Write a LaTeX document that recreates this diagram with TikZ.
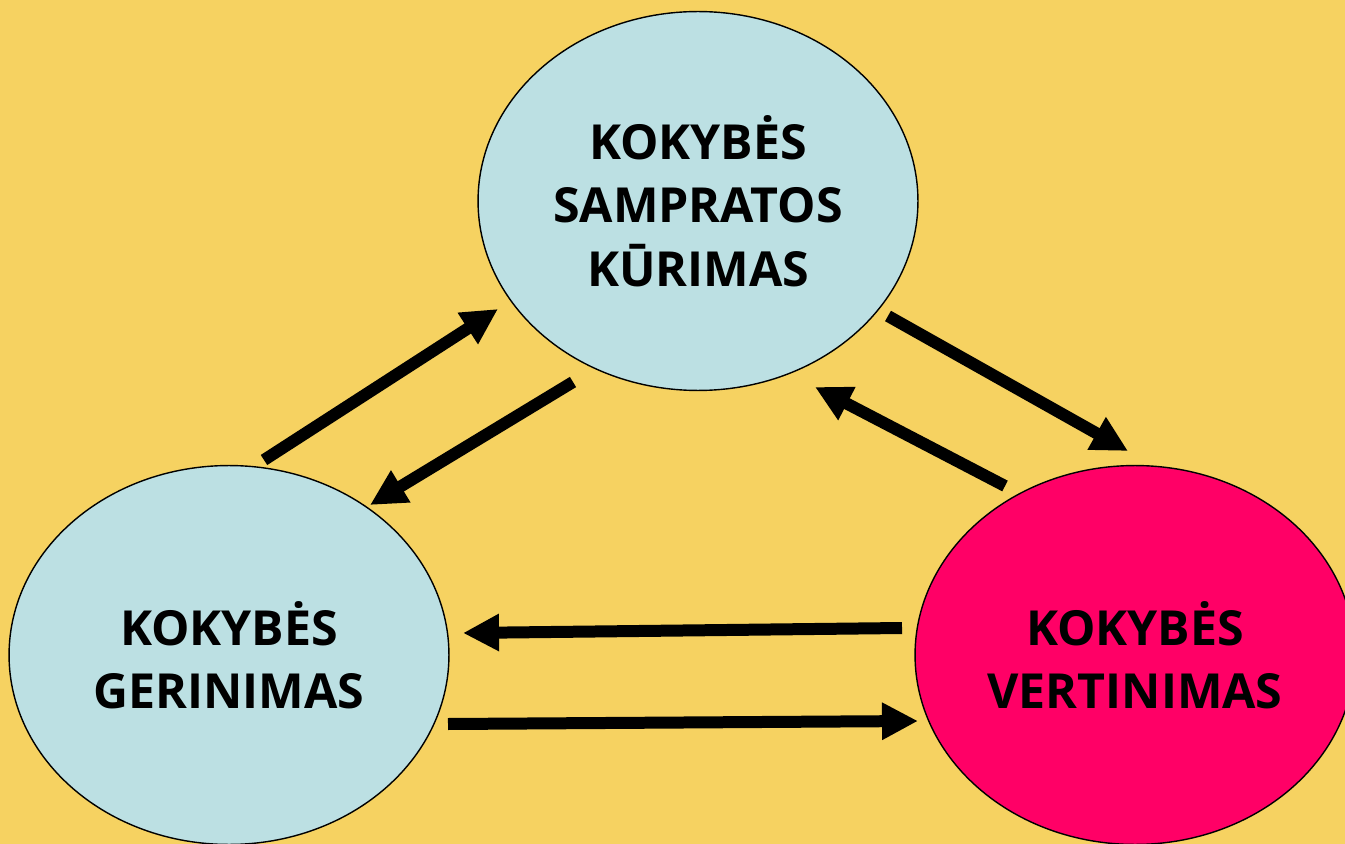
\documentclass[tikz,border=0pt]{standalone}
\usepackage{fontspec}
\setmainfont{Open Sans}
\usepackage{tikz}
\usetikzlibrary{shapes,arrows.meta}

\definecolor{bgyellow}{RGB}{246,210,97}
\definecolor{lightcyan}{RGB}{188,224,227}
\definecolor{hotpink}{RGB}{255,0,102}

\begin{document}
\begin{tikzpicture}[x=0.02cm,y=-0.02cm]
	\def \toprow{201}
	\def \botrow{655}
	\tikzstyle{q-node}=[ellipse,draw=black,line width=0.8pt,inner sep=0pt,minimum width=8.8cm,minimum height=7.58cm,align=center,font=\bfseries\fontsize{27.5}{36}\selectfont]
	\tikzstyle{thick-arr}=[line width=0.24cm,-{Triangle[length=0.72cm,width=0.7cm]}]
	% canvas
	\clip (0,0) rectangle (1345,844);
	\fill[bgyellow] (0,0) rectangle (1345,844);

	% the three stages
	\node[q-node,fill=lightcyan] (samp) at (698,\toprow) {KOKYBĖS\\SAMPRATOS\\KŪRIMAS};
	\node[q-node,fill=lightcyan] (ger)  at (229,\botrow) {KOKYBĖS\\GERINIMAS};
	\node[q-node,fill=hotpink]   (vert) at (1135,\botrow) {KOKYBĖS\\VERTINIMAS};

	% arrow ends
	\coordinate (g1) at (264,460);
	\coordinate (s1) at (498,309);
	\coordinate (s2) at (573,382);
	\coordinate (g2) at (370,505);
	\coordinate (s3) at (888,316);
	\coordinate (v3) at (1128,451);
	\coordinate (v4) at (1005,486);
	\coordinate (s4) at (815,387);
	\coordinate (v5) at (902,628);
	\coordinate (g5) at (463,633);
	\coordinate (g6) at (448,724);
	\coordinate (v6) at (918,721);

	\path
		(g1)	edge[thick-arr]	(s1)
		(s2)	edge[thick-arr]	(g2)
		%
		(s3)	edge[thick-arr]	(v3)
		(v4)	edge[thick-arr]	(s4)
		%
		(v5)	edge[thick-arr]	(g5)
		(g6)	edge[thick-arr]	(v6);
\end{tikzpicture}
\end{document}
